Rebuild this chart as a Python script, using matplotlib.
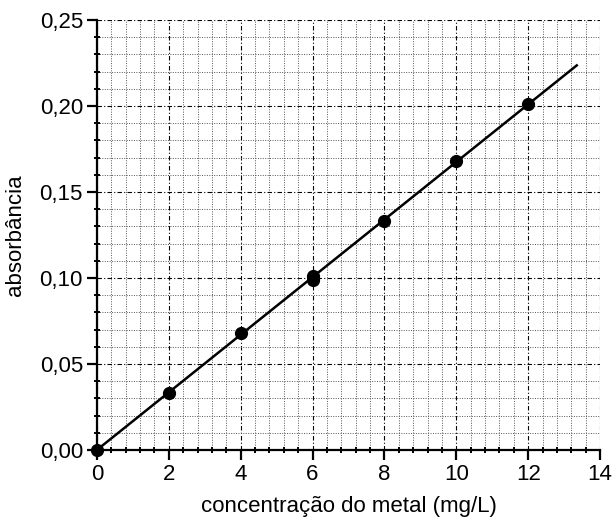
import matplotlib
matplotlib.use("Agg")
import matplotlib.pyplot as plt
from matplotlib.ticker import MultipleLocator, FuncFormatter

conc = [0, 2, 4, 6, 6, 8, 10, 12]
absorb = [0.000, 0.033, 0.068, 0.099, 0.101, 0.133, 0.168, 0.201]
fit_x = [0, 13.35]
fit_y = [0, 0.2236]

plt.rcParams['font.family'] = ['Liberation Sans', 'DejaVu Sans']

fig = plt.figure(figsize=(6.13, 5.26), dpi=100)
ax = fig.add_axes([0.158, 0.1445, 0.821, 0.8175])

ax.set_xlim(0, 14)
ax.set_ylim(0, 0.25)
ax.xaxis.set_major_locator(MultipleLocator(2))
ax.xaxis.set_minor_locator(MultipleLocator(0.4))
ax.yaxis.set_major_locator(MultipleLocator(0.05))
ax.yaxis.set_minor_locator(MultipleLocator(0.01))
ax.yaxis.set_major_formatter(FuncFormatter(lambda v, p: f"{v:.2f}".replace('.', ',')))

ax.grid(which='major', color='black', linestyle=(0, (4, 2, 1, 2)), linewidth=0.8)
ax.grid(which='minor', color='#555555', linestyle=(0, (1, 1.5)), linewidth=0.7)
ax.set_axisbelow(True)

for s in ['top', 'right']:
    ax.spines[s].set_visible(False)
for s in ['left', 'bottom']:
    ax.spines[s].set_linewidth(1.6)

ax.tick_params(which='major', direction='out', length=7, width=1.6, labelsize=16, pad=3)
ax.tick_params(which='minor', direction='inout', length=4, width=1.4)

ax.plot(fit_x, fit_y, color='black', linewidth=1.8, clip_on=False, zorder=3)
ax.plot(conc, absorb, 'o', color='black', markersize=8.5, clip_on=False, zorder=4)

ax.set_xlabel('concentração do metal (mg/L)', fontsize=16, labelpad=8)
ax.set_ylabel('absorbância', fontsize=16, labelpad=10)

fig.savefig('out.png', dpi=100)
